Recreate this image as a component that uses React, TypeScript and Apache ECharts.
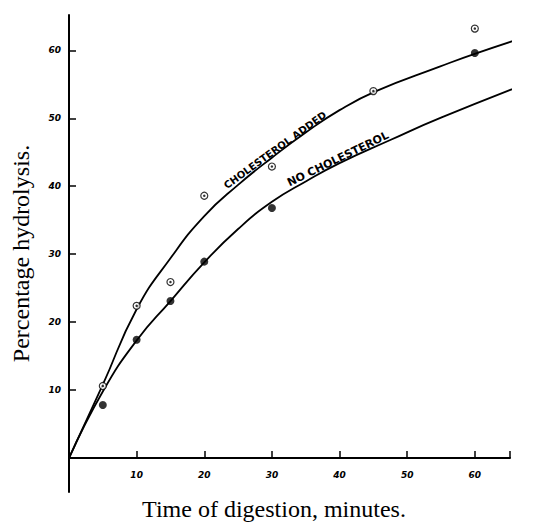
import React, { useEffect, useRef } from "react";
import * as echarts from "echarts";

// Measured points (minutes, % hydrolysis)
const minutesNoChol = [5, 10, 15, 20, 30, 60];
const valuesNoChol = [7.8, 17.4, 23.1, 28.9, 36.8, 59.6];
const minutesChol = [5, 10, 15, 20, 30, 45, 60];
const valuesChol = [10.6, 22.4, 25.9, 38.6, 42.9, 54.0, 63.2];

// Hand-drawn fitted curves
const curveCholX = [0, 5, 10, 15, 20, 25, 30, 35, 40, 45.4, 54.8, 60.3, 70.4];
const curveCholY = [0, 10.8, 21.9, 29.4, 35.6, 40.2, 44.2, 47.9, 51.2, 54.0, 57.6, 59.6, 62.9];
const curveNoX = [0, 5, 10, 15, 20, 25, 30, 35, 40, 47.5, 55, 70.5];
const curveNoY = [0, 9.8, 17.3, 23.1, 28.8, 33.7, 37.7, 40.7, 43.4, 46.8, 50.1, 56.2];

const yTicks = [10, 20, 30, 40, 50, 60];

const labelChol = "CHOLESTEROL ADDED";
const labelNo = "NO CHOLESTEROL";

export default function App() {
  const ref = useRef<HTMLDivElement>(null);
  useEffect(() => {
    if (!ref.current) return;
    const chart = echarts.init(ref.current, null, { renderer: "svg" });
    const tickFont = {
      color: "#000",
      fontSize: 9,
      fontWeight: "bold" as const,
      fontStyle: "italic" as const,
      fontFamily: "DejaVu Sans",
    };
    const titleFont = {
      fontFamily: "Liberation Serif",
      fontSize: 24,
      color: "#000",
    };
    chart.setOption({
      animation: false,
      backgroundColor: "#fff",
      grid: { left: 69, right: 35, top: 15, bottom: 30, containLabel: false, outerBoundsMode: "none" },
      xAxis: {
        type: "value",
        min: 0,
        max: 65.2,
        interval: 10,
        axisLine: { show: true, onZero: true, lineStyle: { color: "#000", width: 2 } },
        axisTick: { show: true, inside: true, length: 7, lineStyle: { color: "#000", width: 1.5 } },
        axisLabel: {
          ...tickFont,
          margin: -22,
          formatter: (v: number) => (v > 0 && v % 10 === 0 ? String(v) : ""),
        },
        splitLine: { show: false },
        name: "Time of digestion, minutes.",
        nameLocation: "middle",
        nameGap: 5,
        nameTextStyle: { ...titleFont, padding: [0, 31, 0, 0] },
      },
      yAxis: {
        type: "value",
        min: -5,
        max: 65.2,
        axisLine: { show: true, lineStyle: { color: "#000", width: 2 } },
        axisTick: {
          show: true,
          inside: true,
          length: 7,
          customValues: yTicks,
          lineStyle: { color: "#000", width: 1.5 },
        },
        axisLabel: { ...tickFont, margin: 8, customValues: yTicks },
        splitLine: { show: false },
        name: "Percentage hydrolysis.",
        nameLocation: "middle",
        nameRotate: 90,
        nameGap: 36,
        nameTextStyle: titleFont,
      },
      graphic: [
        {
          type: "text",
          x: 275,
          y: 150,
          rotation: (36 * Math.PI) / 180,
          style: {
            text: labelChol,
            fontSize: 10,
            fontWeight: "bold",
            fontFamily: "DejaVu Sans",
            fill: "#000",
            align: "center",
            verticalAlign: "middle",
          },
        },
        {
          type: "text",
          x: 338,
          y: 159,
          rotation: (26 * Math.PI) / 180,
          style: {
            text: labelNo,
            fontSize: 11,
            fontWeight: "bold",
            fontFamily: "DejaVu Sans",
            fill: "#000",
            align: "center",
            verticalAlign: "middle",
          },
        },
      ],
      series: [
        {
          type: "line",
          data: curveCholX.map((x, i) => [x, curveCholY[i]]),
          smooth: 0.5,
          symbol: "none",
          clip: false,
          silent: true,
          lineStyle: { color: "#000", width: 1.8 },
        },
        {
          type: "line",
          data: curveNoX.map((x, i) => [x, curveNoY[i]]),
          smooth: 0.5,
          symbol: "none",
          clip: false,
          silent: true,
          lineStyle: { color: "#000", width: 1.8 },
        },
        {
          type: "scatter",
          data: minutesNoChol.map((x, i) => [x, valuesNoChol[i]]),
          symbol: "circle",
          symbolSize: 8,
          itemStyle: { color: "#000" },
          z: 5,
        },
        {
          type: "scatter",
          data: minutesChol.map((x, i) => [x, valuesChol[i]]),
          symbol: "circle",
          symbolSize: 7,
          itemStyle: { color: "#fff", borderColor: "#000", borderWidth: 1.2 },
          z: 5,
        },
        {
          type: "scatter",
          data: minutesChol.map((x, i) => [x, valuesChol[i]]),
          symbol: "circle",
          symbolSize: 2.5,
          itemStyle: { color: "#000" },
          z: 6,
        },
      ],
    });
    return () => chart.dispose();
  }, []);
  return (
    <div
      ref={ref}
      style={{ position: "fixed", left: 0, top: 0, width: 545, height: 522, background: "#fff" }}
    />
  );
}
